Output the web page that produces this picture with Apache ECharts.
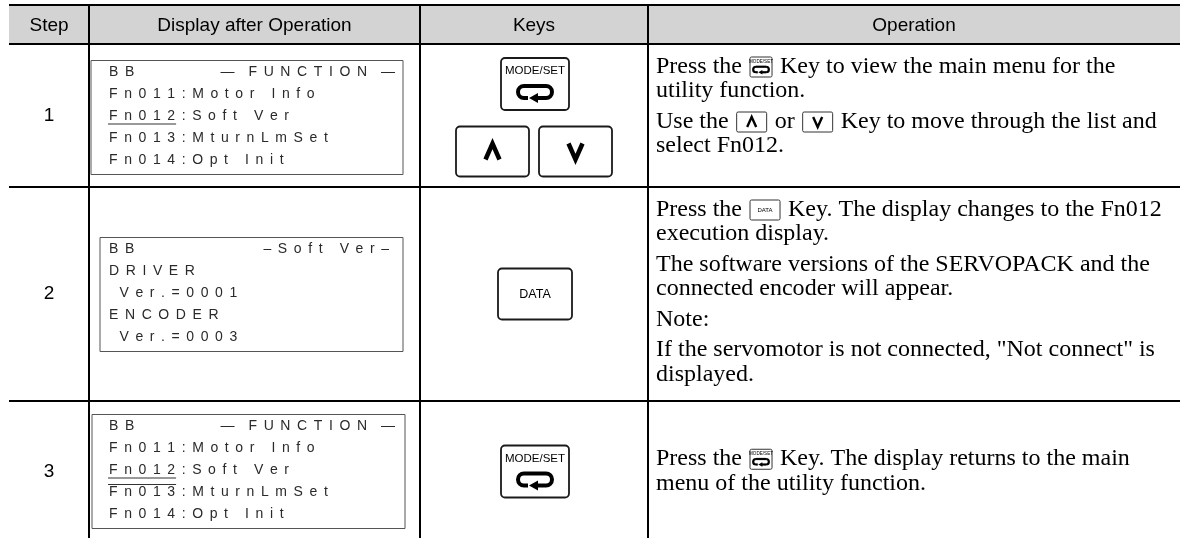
<!DOCTYPE html>
<html><head><meta charset="utf-8">
<script src="https://cdn.jsdelivr.net/npm/echarts@6/dist/echarts.min.js"></script>
<style>html,body{margin:0;padding:0;background:#fff}#c{width:1180px;height:538px}</style>
</head><body><div id="c"></div>
<script>
// ---------------- data ----------------
const headers = ['Step', 'Display after Operation', 'Keys', 'Operation'];
const steps = ['1', '2', '3'];
const displayHead = [['BB', '—FUNCTION—'], ['BB', '–Soft Ver–'], ['BB', '—FUNCTION—']];
const displayBody = [
  ['Fn011:Motor Info', 'Fn012:Soft Ver', 'Fn013:MturnLmSet', 'Fn014:Opt Init'],
  ['DRIVER', ' Ver.=0001', 'ENCODER', ' Ver.=0003'],
  ['Fn011:Motor Info', 'Fn012:Soft Ver', 'Fn013:MturnLmSet', 'Fn014:Opt Init']
];
// cursor marks: [display line, first char, char count, kind]
const cursorMarks = [[[2, 0, 5, 'under']], [], [[2, 0, 5, 'under'], [3, 0, 5, 'over']]];
const keyGroups = [[['MODE'], ['UP', 'DOWN']], [['DATA']], [['MODE']]];
const operations = [
  [
    [['Press the ', '@MODE', ' Key to view the main menu for the'], ['utility function.']],
    [['Use the ', '@UP', ' or ', '@DOWN', ' Key to move through the list and'], ['select Fn012.']]
  ],
  [
    [['Press the ', '@DATA', ' Key. The display changes to the Fn012'], ['execution display.']],
    [['The software versions of the SERVOPACK and the'], ['connected encoder will appear.']],
    [['Note:']],
    [['If the servomotor is not connected, "Not connect" is'], ['displayed.']]
  ],
  [
    [['Press the ', '@MODE', ' Key. The display returns to the main'], ['menu of the utility function.']]
  ]
];

// ---------------- layout ----------------
const SANS = '"Liberation Sans", Arial, Helvetica, sans-serif';
const SERIF = '"Liberation Serif", "Times New Roman", Times, serif';
const colX = [9, 89, 420, 648, 1180];
const rowY = [5, 44, 187, 401, 542];
const dispBoxX = [[91, 403], [100, 403], [92, 405]];
const dispShift = [2, 0.5, 0];
const dispH = 114, dispTextX = 109, dispRight = [395, 389, 395];
const DF = 14, DLS = 6.6, DLH = 22, DASHLS = 14;
const OF = 22.5, OSX = 1.067, OLH = 24.5, OGAP = 6, OX = 656;
const opValign = ['top', 'top', 'middle'];

const cv = document.createElement('canvas').getContext('2d');
function tw(s, size, fam) { cv.font = size + 'px ' + fam; return cv.measureText(s).width; }

const els = [];
function T(text, x, y, size, fam, extra, sx) {
  const el = { type: 'text', z: 20, x: x, y: y,
    style: Object.assign({ text: text, fontSize: size, fontFamily: fam, fill: '#000',
      align: 'left', verticalAlign: 'middle' }, extra || {}) };
  if (sx) { el.scaleX = sx; }
  els.push(el);
}
function Ln(x1, y1, x2, y2, w, c, z) {
  els.push({ type: 'line', z: z || 10, shape: { x1: x1, y1: y1, x2: x2, y2: y2 }, style: { stroke: c || '#000', lineWidth: w } });
}
function Rc(x, y, w, h, r, style, z) {
  els.push({ type: 'rect', z: z || 5, shape: { x: x, y: y, width: w, height: h, r: r }, style: style });
}
function Arc(cx, cy, r, a0, a1, lw) {
  els.push({ type: 'arc', z: 22, shape: { cx: cx, cy: cy, r: r, startAngle: a0, endAngle: a1, clockwise: true },
    style: { stroke: '#000', lineWidth: lw, fill: null } });
}
// return symbol, base design 34 x 12 centred on (cx, cy)
function retArrow(cx, cy, s, lw) {
  const P = (px, py) => [cx + (px - 18) * s, cy + (py - 8) * s];
  const a = P(7, 8), b = P(29, 8);
  Arc(a[0], a[1], 6 * s, Math.PI / 2, Math.PI * 3 / 2, lw);
  Arc(b[0], b[1], 6 * s, -Math.PI / 2, Math.PI / 2, lw);
  let p1 = P(7, 2), p2 = P(29, 2); Ln(p1[0], p1[1], p2[0], p2[1], lw, '#000', 22);
  p1 = P(7, 14); p2 = P(11, 14); Ln(p1[0], p1[1], p2[0], p2[1], lw, '#000', 22);
  p1 = P(29, 14); p2 = P(20, 14); Ln(p1[0], p1[1], p2[0], p2[1], lw, '#000', 22);
  els.push({ type: 'polygon', z: 22, shape: { points: [P(12, 14), P(21, 9), P(21, 19)] }, style: { fill: '#000' } });
}
function chevron(cx, cy, hw, hh, up, lw) {
  const d = up ? 1 : -1;
  els.push({ type: 'polyline', z: 22, shape: { points: [[cx - hw, cy + d * hh], [cx, cy - d * hh], [cx + hw, cy + d * hh]] },
    style: { stroke: '#000', lineWidth: lw, fill: null, lineJoin: 'miter' } });
}
function bigKey(kind, cx, cy) {
  if (kind === 'MODE') {
    Rc(cx - 34, cy - 26, 68, 52, 4, { fill: '#fff', stroke: '#1a1a1a', lineWidth: 1.8 });
    T('MODE/SET', cx, cy - 13, 11.5, SANS, { align: 'center' });
    retArrow(cx, cy + 8, 1, 4);
  } else if (kind === 'DATA') {
    Rc(cx - 37, cy - 25.5, 74, 51, 4, { fill: '#fff', stroke: '#1a1a1a', lineWidth: 1.8 });
    T('DATA', cx, cy + 1, 12.5, SANS, { align: 'center' });
  } else {
    Rc(cx - 36.5, cy - 25, 73, 50, 4, { fill: '#fff', stroke: '#1a1a1a', lineWidth: 1.8 });
    chevron(cx, cy, 7, 8, kind === 'UP', 4.5);
  }
}
const iconW = { MODE: 22, UP: 30, DOWN: 30, DATA: 30 };
function smallKey(kind, x, cy) {
  const w = iconW[kind], h = 20;
  Rc(x, cy - h / 2, w, h, 1.5, { fill: '#fff', stroke: '#333', lineWidth: 1 }, 15);
  const cx = x + w / 2;
  if (kind === 'MODE') {
    T('MODE/SET', cx, cy - 5.5, 4.6, SANS, { align: 'center' });
    retArrow(cx, cy + 2.5, 0.46, 2.2);
  } else if (kind === 'DATA') {
    T('DATA', cx, cy, 6, SANS, { align: 'center' });
  } else {
    chevron(cx, cy, 4.5, 5, kind === 'UP', 2.4);
  }
}
// display LCD text with letter spacing
function charRun(str, x, y, alignRight) {
  const chars = Array.from(str);
  const ws = chars.map(c => tw(c, DF, SANS));
  const gap = i => (chars[i] === '—' || chars[i + 1] === '—') ? DASHLS : DLS;
  let total = 0;
  chars.forEach((c, i) => { total += ws[i] + (i < chars.length - 1 ? gap(i) : 0); });
  let cx = alignRight ? x - total : x;
  const pos = [];
  chars.forEach((c, i) => {
    pos.push([cx, cx + ws[i]]);
    if (c !== ' ') T(c, cx, y, DF, SANS, { fill: '#2a2a2a' });
    cx += ws[i] + gap(i);
  });
  return pos;
}

// header band
Rc(colX[0], rowY[0], colX[4] - colX[0], rowY[1] - rowY[0], 0, { fill: '#d3d3d3' }, 1);
headers.forEach((h, i) => T(h, (colX[i] + colX[i + 1]) / 2, (rowY[0] + rowY[1]) / 2 + 1, 19, SANS, { align: 'center' }));
[0, 1, 2, 3].forEach(i => Ln(colX[0], rowY[i], colX[4], rowY[i], 2));
[1, 2, 3].forEach(i => Ln(colX[i], rowY[0], colX[i], 538, 2));

steps.forEach((s, r) => {
  const top = rowY[r + 1], bot = rowY[r + 2], mid = (top + bot) / 2;
  T(s, (colX[0] + colX[1]) / 2, mid, 19, SANS, { align: 'center' });
  const bx = dispBoxX[r], by = mid - dispH / 2 + dispShift[r];
  Rc(bx[0], by, bx[1] - bx[0], dispH, 0, { fill: '#fff', stroke: '#555', lineWidth: 1 }, 4);
  const lineY = i => by + 11.5 + i * DLH;
  charRun(displayHead[r][0], dispTextX, lineY(0), false);
  charRun(displayHead[r][1], dispRight[r], lineY(0), true);
  const posByLine = [null];
  displayBody[r].forEach((ln, i) => { posByLine.push(charRun(ln, dispTextX, lineY(i + 1), false)); });
  cursorMarks[r].forEach(m => {
    const p = posByLine[m[0]];
    const x1 = p[m[1]][0] - 1, x2 = p[m[1] + m[2] - 1][1] + 1;
    const yy = m[3] === 'under' ? lineY(m[0]) + 8 : lineY(m[0]) - 7.5;
    Ln(x1, yy, x2, yy, 1, '#333', 21);
  });
  const kcx = (colX[2] + colX[3]) / 2;
  const groups = keyGroups[r];
  if (groups.length === 2) {
    bigKey(groups[0][0], kcx + 1, mid - 31.5);
    bigKey(groups[1][0], kcx - 41.5, mid + 36);
    bigKey(groups[1][1], kcx + 41.5, mid + 36);
  } else {
    bigKey(groups[0][0], kcx + 1, mid);
  }
  const paras = operations[r];
  let nLines = 0; paras.forEach(p => nLines += p.length);
  const blockH = (nLines - 1) * OLH + (paras.length - 1) * OGAP;
  let y = opValign[r] === 'top' ? top + 23 : mid - blockH / 2;
  paras.forEach(p => {
    p.forEach(line => {
      let x = OX;
      line.forEach(tok => {
        if (tok[0] === '@') {
          const k = tok.slice(1);
          smallKey(k, x + 2, y);
          x += iconW[k] + 4;
        } else {
          T(tok, x, y, OF, SERIF, null, OSX);
          x += tw(tok, OF, SERIF) * OSX;
        }
      });
      y += OLH;
    });
    y += OGAP;
  });
});

const chart = echarts.init(document.getElementById('c'), null, { renderer: 'canvas' });
chart.setOption({ animation: false, backgroundColor: '#fff', graphic: { elements: els } });
</script>
</body></html>
